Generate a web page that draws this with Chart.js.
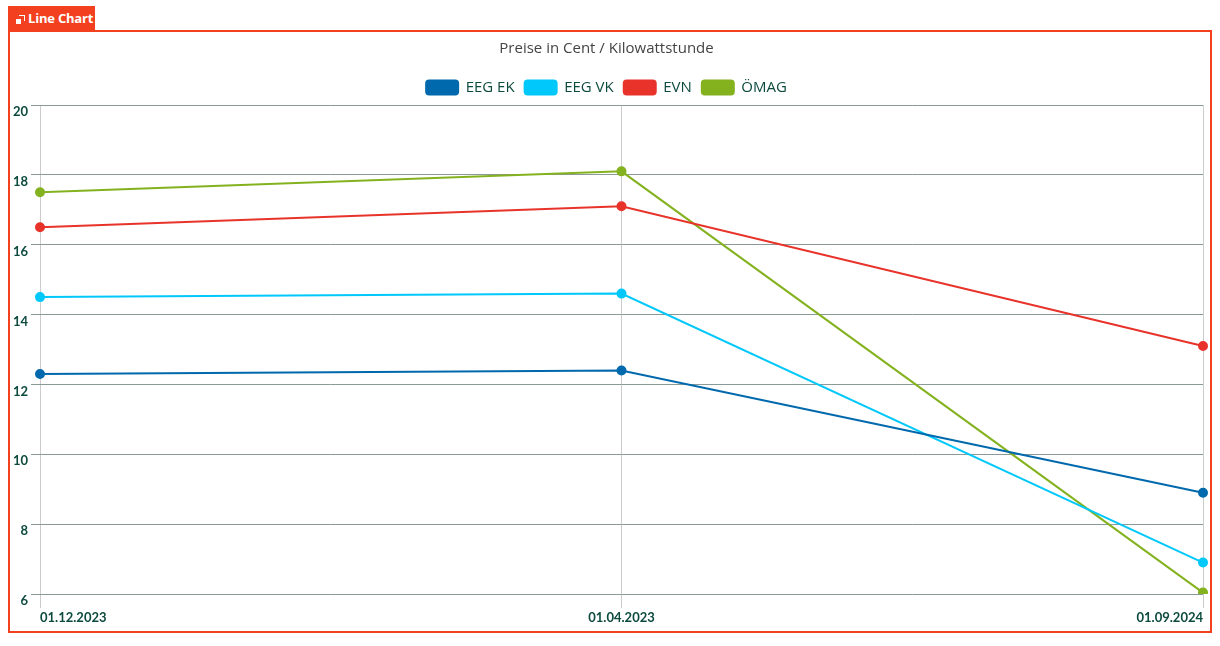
<!DOCTYPE html>
<html><head><meta charset="utf-8">
<script src="https://cdn.jsdelivr.net/npm/chart.js@4/dist/chart.umd.min.js"></script>
<style>
html,body{margin:0;padding:0;background:#fff;width:1220px;height:646px;overflow:hidden;font-family:Lato,"Noto Sans",sans-serif}
#wrap{position:absolute;left:0;top:0;width:1220px;height:646px}
#frame{position:absolute;left:8px;top:30px;width:1200px;height:599px;border:2px solid #f3401f;pointer-events:none}
#tab{position:absolute;left:8px;top:6px;width:87px;height:25px;background:#f3401f;color:#fff;font:bold 13px "Open Sans",Lato,sans-serif;line-height:25px;box-sizing:border-box;padding-left:20px;letter-spacing:-0.2px}
#tab .i1{position:absolute;left:8px;top:13px;width:5px;height:5px;background:#fff}
#tab .i2{position:absolute;left:11px;top:9px;border-top:1.5px solid #fff;border-right:1.5px solid #fff;box-sizing:border-box;width:6px;height:6px}
</style></head>
<body>
<div id="wrap"><canvas id="c" width="1220" height="646"></canvas></div>
<div id="frame"></div>
<div id="tab"><span class="i2"></span><span class="i1"></span>Line Chart</div>
<script>
const categories = ["01.12.2023", "01.04.2023", "01.09.2024"];
const seriesNames = ["EEG EK", "EEG VK", "EVN", "ÖMAG"];
const eegEK = [12.3, 12.4, 8.9];
const eegVK = [14.5, 14.6, 6.9];
const evn = [16.5, 17.1, 13.1];
const oemag = [17.5, 18.1, 6.04];
const yTicks = [6, 8, 10, 12, 14, 16, 18, 20];
const colors = ["#0069ad", "#00c8fa", "#e8332a", "#84b21f"];
const titleText = "Preise in Cent / Kilowattstunde";

const textColor = "#0d4a3e";
const values = [eegEK, eegVK, evn, oemag];
const datasets = seriesNames.map((n, i) => ({
  label: n, data: values[i], borderColor: colors[i], backgroundColor: colors[i],
  borderWidth: 2, pointRadius: 4, pointHoverRadius: 4, tension: 0, fill: false
}));

new Chart(document.getElementById('c'), {
  type: 'line',
  data: { labels: categories, datasets },
  options: {
    responsive: false, animation: false, devicePixelRatio: 1,
    layout: { padding: { left: 10, right: 17, top: 38, bottom: 12 } },
    plugins: {
      title: { display: true, text: titleText, color: '#444', font: { family: '"Open Sans", Lato, sans-serif', size: 15, weight: 'normal' }, padding: { top: 2, bottom: 12 } },
      legend: { labels: { color: textColor, boxWidth: 32, boxHeight: 14, useBorderRadius: true, borderRadius: 3, padding: 10, font: { family: '"Open Sans", Lato, sans-serif', size: 15, weight: '500' } } },
      tooltip: { enabled: false }
    },
    scales: {
      x: {
        grid: { color: '#cccccc', tickLength: 14, drawTicks: true },
        border: { display: false },
        ticks: { align: 'inner', color: textColor, padding: 2, maxRotation: 0, font: { family: 'Lato, "Noto Sans", sans-serif', size: 13, weight: 'bold' } },
        afterFit: s => { s.height = 40; }
      },
      y: {
        min: 6, max: 20,
        afterBuildTicks: s => { s.ticks = yTicks.map(v => ({ value: v })); },
        grid: { color: '#8a9a98', tickLength: 9 },
        border: { display: false },
        ticks: { color: textColor, padding: 3, labelOffset: 7, font: { family: 'Lato, "Noto Sans", sans-serif', size: 13, weight: 'bold' } },
        afterFit: s => { s.width = 30; }
      }
    }
  }
});
</script>
</body></html>
